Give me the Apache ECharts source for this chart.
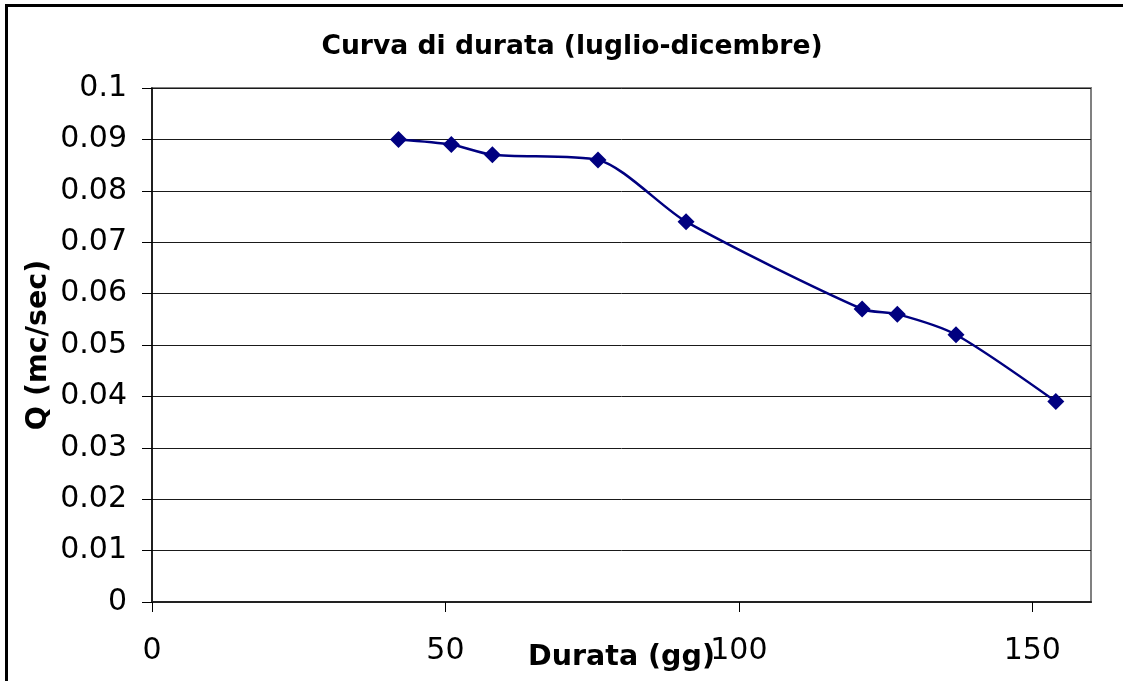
<!DOCTYPE html>
<html>
<head>
<meta charset="utf-8">
<title>Curva di durata (luglio-dicembre)</title>
<script src="https://cdn.jsdelivr.net/npm/echarts@6/dist/echarts.min.js"></script>
<style>
  html, body { margin: 0; padding: 0; background: #fff; }
  #chart { width: 1123px; height: 681px; }
</style>
</head>
<body>
<div id="chart"></div>
<script>
// Durata (giorni) e portata Q (mc/sec), periodo luglio-dicembre
const durata = [42, 51, 58, 76, 91, 121, 127, 137, 154];
const portata = [0.090, 0.089, 0.087, 0.086, 0.074, 0.057, 0.056, 0.052, 0.039];
const xTicks = [0, 50, 100, 150];

const titolo = 'Curva di durata (luglio-dicembre)';
const nomeX = 'Durata (gg)';
const nomeY = 'Q (mc/sec)';

const FONT = '"DejaVu Sans", "Liberation Sans", Arial, sans-serif';

const chart = echarts.init(document.getElementById('chart'), null, { renderer: 'canvas' });

chart.setOption({
  backgroundColor: '#ffffff',
  animation: false,
  title: {
    text: titolo,
    left: 567,
    textAlign: 'center',
    top: 29,
    textStyle: { fontFamily: FONT, fontWeight: 'bold', fontSize: 26.6, color: '#000' }
  },
  graphic: [{
    type: 'rect',
    shape: { x: 6.5, y: 5.5, width: 3000, height: 3000 },
    style: { fill: null, stroke: '#000', lineWidth: 3 },
    silent: true
  }],
  grid: {
    left: 152, right: 32, top: 88, bottom: 79,
    outerBoundsMode: 'none',
    containLabel: false,
    show: true, borderColor: '#808080', borderWidth: 2, backgroundColor: 'transparent'
  },
  xAxis: {
    type: 'value',
    min: 0, max: 160, interval: 50,
    name: nomeX,
    nameLocation: 'middle',
    nameGap: 41,
    nameMoveOverlap: false,
    nameTextStyle: { fontFamily: FONT, fontWeight: 'bold', fontSize: 28.5, color: '#000' },
    axisLine: { show: true, lineStyle: { color: '#222', width: 2 } },
    axisTick: { show: true, inside: false, length: 10, customValues: xTicks, lineStyle: { color: '#000', width: 1 } },
    axisLabel: { customValues: xTicks, margin: 34, fontFamily: FONT, fontSize: 30, color: '#000' },
    splitLine: { show: false }
  },
  yAxis: {
    type: 'value',
    min: 0, max: 0.1, interval: 0.01,
    name: nomeY,
    nameLocation: 'middle',
    nameGap: 99,
    nameMoveOverlap: false,
    nameTextStyle: { fontFamily: FONT, fontWeight: 'bold', fontSize: 28.5, color: '#000' },
    axisLine: { show: true, lineStyle: { color: '#000', width: 1.5 } },
    axisTick: { show: true, inside: false, length: 10, lineStyle: { color: '#000', width: 1 } },
    axisLabel: {
      margin: 25, fontFamily: FONT, fontSize: 30, color: '#000',
      formatter: v => String(Math.round(v * 100) / 100)
    },
    splitLine: { show: true, lineStyle: { color: '#1a1a1a', width: 1 } }
  },
  series: [{
    type: 'line',
    data: durata.map((d, i) => [d, portata[i]]),
    smooth: 0.25,
    symbol: 'diamond',
    symbolSize: 17,
    itemStyle: { color: '#000080' },
    lineStyle: { color: '#000080', width: 2.5 }
  }]
});
</script>
</body>
</html>
